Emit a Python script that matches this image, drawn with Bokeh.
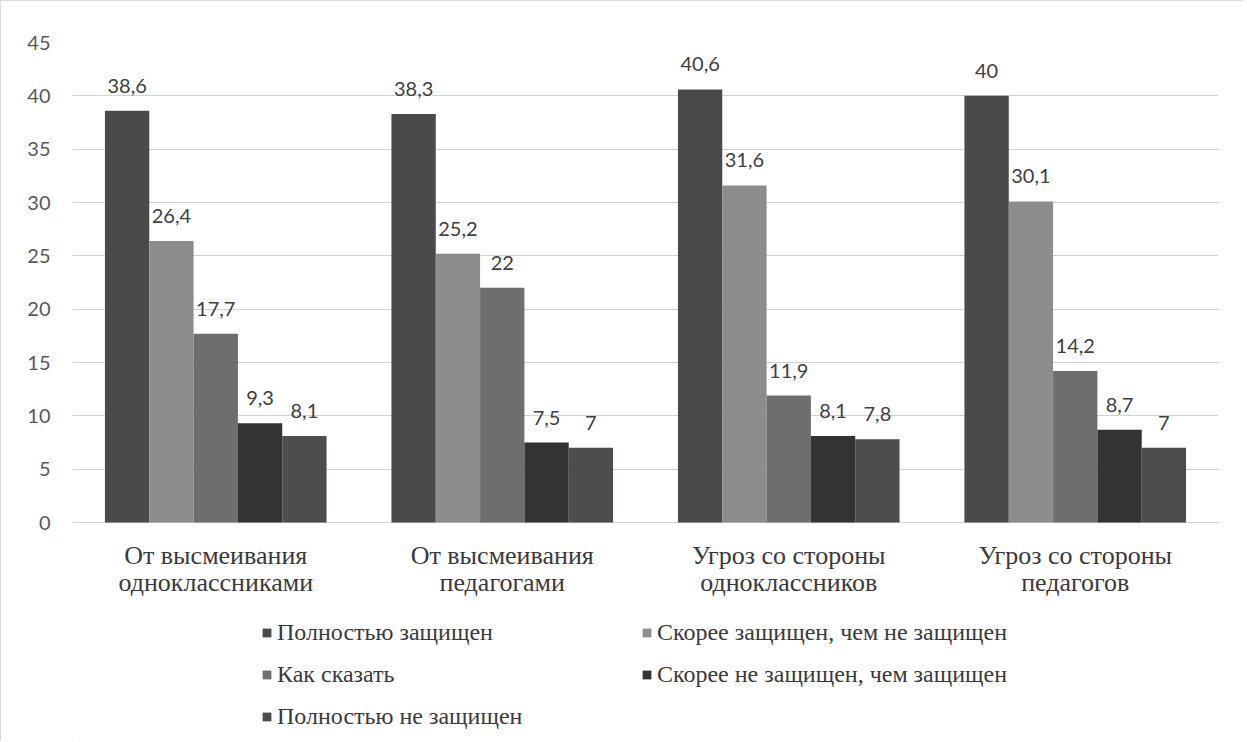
from bokeh.plotting import figure
from bokeh.models import ColumnDataSource, FactorRange, Legend, LegendItem, Range1d
from bokeh.transform import dodge
from bokeh.core.properties import value
from bokeh.embed import file_html
from bokeh.resources import INLINE

categories = [
    "От высмеивания\nодноклассниками",
    "От высмеивания\nпедагогами",
    "Угроз со стороны\nодноклассников",
    "Угроз со стороны\nпедагогов",
]
series_names = [
    "Полностью защищен",
    "Скорее защищен, чем не защищен",
    "Как сказать",
    "Скорее не защищен, чем защищен",
    "Полностью не защищен",
]
full_protected = [38.6, 38.3, 40.6, 40]
rather_protected = [26.4, 25.2, 31.6, 30.1]
hard_to_say = [17.7, 22, 11.9, 14.2]
rather_unprotected = [9.3, 7.5, 8.1, 8.7]
full_unprotected = [8.1, 7, 7.8, 7]
series_values = [full_protected, rather_protected, hard_to_say, rather_unprotected, full_unprotected]
y_ticks = [0, 5, 10, 15, 20, 25, 30, 35, 40, 45]

colors = ["#4a4a4a", "#8d8d8d", "#6e6e6e", "#333333", "#4b4e4c"]

bar_w = 0.1547
offsets = [-2 * bar_w, -bar_w, 0.0, bar_w, 2 * bar_w]

# frame spans from the top of the value axis down to the bottom of the chart;
# the space under 0 holds the category labels and the legend
y_bottom = -(740 - 522) / (480 / 45)

p = figure(
    x_range=FactorRange(*categories, range_padding=0.0),
    y_range=Range1d(y_bottom, 45),
    width=1243, height=740,
    output_backend="svg", toolbar_location=None,
    min_border_left=72, min_border_right=25, min_border_top=42, min_border_bottom=0,
)
p.styles = {"outline": "1px solid #cfcfcf", "outline-offset": "-1px"}
p.background_fill_color = "white"
p.border_fill_color = "white"
p.outline_line_color = None

src = {"cat": categories, "zero": [0] * len(categories)}
for i, vals in enumerate(series_values):
    src[f"s{i}"] = vals
    src[f"l{i}"] = [f"{v:g}".replace(".", ",") for v in vals]
source = ColumnDataSource(src)

items = []
for i in range(5):
    r = p.vbar(x=dodge("cat", offsets[i], range=p.x_range), top=f"s{i}", width=bar_w,
               source=source, fill_color=colors[i], line_color=None)
    items.append(LegendItem(label=series_names[i], renderers=[r]))
    p.text(x=dodge("cat", offsets[i], range=p.x_range), y=f"s{i}", text=f"l{i}", source=source,
           text_align="center", text_baseline="bottom", y_offset=-18,
           text_font=value("Lato"), text_font_size="20px", text_color="#404040")

# category labels under the axis line
p.text(x="cat", y="zero", text="cat", source=source,
       text_align="center", text_baseline="top", y_offset=18,
       text_font=value("Liberation Serif"), text_font_size="26px",
       text_color="#3a3a3a", text_line_height=0.95)

legend = Legend(items=items, location=(189, 9), orientation="horizontal", ncols=2,
                glyph_width=11, glyph_height=11, label_standoff=5, label_width=352,
                label_height=30, spacing=12, padding=0, margin=0,
                border_line_color=None, background_fill_alpha=0,
                label_text_font="serif", label_text_font_size="24px",
                label_text_color="#3a3a3a", label_text_baseline="middle")
p.add_layout(legend, "center")

p.ygrid.grid_line_color = "#d2d2d2"
p.ygrid.grid_line_width = 1
p.xgrid.grid_line_color = None

p.yaxis.ticker = y_ticks
p.yaxis.axis_line_color = None
p.yaxis.major_tick_line_color = None
p.yaxis.minor_tick_line_color = None
p.yaxis.major_label_standoff = 16
p.yaxis.major_label_text_font = "Lato"
p.yaxis.major_label_text_font_size = "20px"
p.yaxis.major_label_text_color = "#595959"

p.xaxis.visible = False

open("out.html", "w").write(file_html(p, INLINE))
